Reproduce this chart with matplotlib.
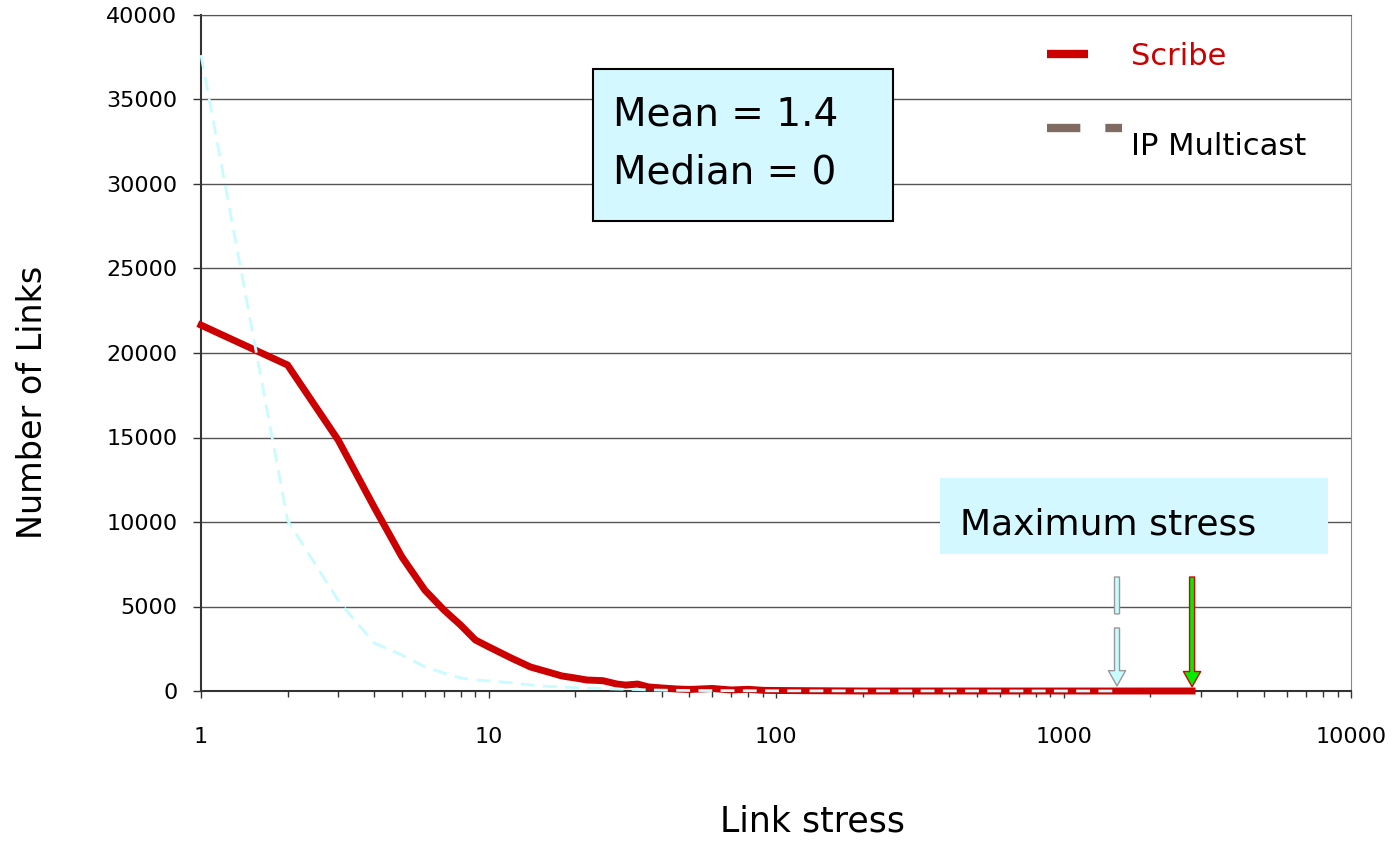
#!/usr/bin/env python
# -*- coding: utf-8 -*-
import matplotlib
matplotlib.use('Agg')
import matplotlib.pyplot as plt
from matplotlib.lines import Line2D
from matplotlib.patches import Rectangle
from matplotlib.legend_handler import HandlerLine2D
from matplotlib.ticker import LogLocator, NullFormatter

plt.rcParams['font.family'] = ['DejaVu Sans']

# Scribe link stress distribution
scribe_x = [1, 2, 3, 4, 5, 6, 7, 8, 9, 10, 12, 14, 16, 18, 20, 22, 25, 28, 30, 33,
            36, 40, 45, 50, 60, 70, 80, 90, 100, 200, 2800]
scribe_y = [21650, 19290, 14850, 10890, 7930, 5980, 4790, 3900, 3020, 2620, 1950, 1420,
            1140, 890, 770, 650, 610, 410, 350, 410, 240, 180, 120, 90, 150, 60, 100,
            40, 30, 0, 0]

# IP Multicast link stress distribution
ip_x = [1, 2, 3, 4, 5, 6, 7, 8, 9, 10, 12, 15, 20, 25, 30, 40, 50, 100, 1535]
ip_y = [37630, 10100, 5350, 2840, 2130, 1440, 1060, 770, 650, 600, 490, 300, 200,
        140, 100, 50, 30, 10, 0]

# maximum stress of each scheme
ip_max = 1535
scribe_max = 2800

yticks = [0, 5000, 10000, 15000, 20000, 25000, 30000, 35000, 40000]
xticks = [1, 10, 100, 1000, 10000]
xlabels = ['1', '10', '100', '1000', '10000']

red = '#CC0000'
cyan = '#C8FCFF'
boxcol = '#D4F8FF'


class LegendLine(HandlerLine2D):
    # legend line with its own length (fraction of handle) and vertical shift
    def __init__(self, frac=1.0, dy=0.0, **kw):
        super().__init__(**kw)
        self.frac = frac
        self.dy = dy

    def create_artists(self, legend, orig_handle, xdescent, ydescent, width,
                       height, fontsize, trans):
        arts = super().create_artists(legend, orig_handle, xdescent, ydescent,
                                      width * self.frac, height, fontsize, trans)
        for a in arts:
            a.set_ydata([y + self.dy for y in a.get_ydata()])
        return arts


fig = plt.figure(figsize=(13.95, 8.42), dpi=100)
ax = fig.add_axes([201/1395, 1 - 691/842, 1150/1395, 676/842])

ax.plot(scribe_x, scribe_y, color=red, lw=5, solid_joinstyle='miter', zorder=3,
        clip_on=False)
ax.plot(ip_x, ip_y, color=cyan, lw=2, linestyle=(0, (5, 3)), zorder=4, clip_on=False)

ax.set_xscale('log')
ax.set_xlim(1, 10000)
ax.set_ylim(0, 40000)
ax.set_xticks(xticks)
ax.set_xticklabels(xlabels)
ax.xaxis.set_minor_locator(LogLocator(base=10, subs=range(2, 10)))
ax.xaxis.set_minor_formatter(NullFormatter())
ax.set_yticks(yticks)
ax.set_yticklabels([str(v) for v in yticks])

ax.tick_params(axis='x', which='major', direction='out', length=5, width=1,
               pad=21, labelsize=16, color='#333333')
ax.tick_params(axis='x', which='minor', direction='out', length=4, width=1,
               color='#333333')
ax.tick_params(axis='y', direction='out', length=6, width=1, pad=11,
               labelsize=16, color='#333333')

ax.yaxis.grid(True, color='#555555', lw=1)
ax.set_axisbelow(True)
for side in ['left', 'bottom']:
    ax.spines[side].set_color('#333333')
    ax.spines[side].set_linewidth(1.5)
ax.spines['right'].set_color('#888888')
ax.spines['top'].set_color('#555555')

# maximum stress arrows
shaft = 'simple,head_length=0.01,head_width=0.18,tail_width=0.18'
head = 'simple,head_length=0.55,head_width=0.62,tail_width=0.18'
ax.annotate('', xy=(ip_max, 4556), xytext=(ip_max, 6745),
            arrowprops=dict(arrowstyle=shaft, fc=cyan, ec='#999999', lw=1,
                            shrinkA=0, shrinkB=0, mutation_scale=20), zorder=5)
ax.annotate('', xy=(ip_max, 300), xytext=(ip_max, 3728),
            arrowprops=dict(arrowstyle=head, fc=cyan, ec='#999999', lw=1,
                            shrinkA=0, shrinkB=0, mutation_scale=20), zorder=5)
ax.annotate('', xy=(scribe_max, 250), xytext=(scribe_max, 6745),
            arrowprops=dict(arrowstyle=head, fc='#00EE00', ec='#DD0000', lw=1,
                            shrinkA=0, shrinkB=0, mutation_scale=20), zorder=5)

# statistics box
ax.add_patch(Rectangle((0.341, 0.695), 0.261, 0.225, transform=ax.transAxes,
                       fc=boxcol, ec='black', lw=1.5, zorder=6))
ax.text(0.358, 0.837, 'Mean = 1.4', transform=ax.transAxes, fontsize=28,
        va='baseline', ha='left', zorder=7)
ax.text(0.358, 0.751, 'Median = 0', transform=ax.transAxes, fontsize=28,
        va='baseline', ha='left', zorder=7)

# maximum stress label
ax.add_patch(Rectangle((0.643, 0.203), 0.337, 0.112, transform=ax.transAxes,
                       fc=boxcol, ec='none', zorder=6))
ax.text(0.660, 0.232, 'Maximum stress', transform=ax.transAxes, fontsize=26,
        va='baseline', ha='left', zorder=7)

# legend
h_scribe = Line2D([], [], color=red, lw=6, solid_capstyle='butt')
h_ip = Line2D([], [], color='#7F6B62', lw=6, linestyle=(0, (4, 3)),
              dash_capstyle='butt')
leg = ax.legend([h_scribe, h_ip], ['Scribe', 'IP Multicast'], loc='upper left',
                bbox_to_anchor=(1047/1395, 1 - 42/842), bbox_transform=fig.transFigure,
                frameon=False, fontsize=22, handlelength=2.45, handletextpad=0.3,
                labelspacing=2.0, borderpad=0, borderaxespad=0,
                handler_map={h_scribe: LegendLine(frac=0.55),
                             h_ip: LegendLine(frac=1.0, dy=12)})
leg.get_texts()[0].set_color(red)

fig.text(33/1395, 1 - 402/842, 'Number of Links', rotation=90, fontsize=24,
         ha='center', va='center')
fig.text(812/1395, 1 - 822/842, 'Link stress', fontsize=25, ha='center', va='center')

fig.savefig('out.png', dpi=100)
